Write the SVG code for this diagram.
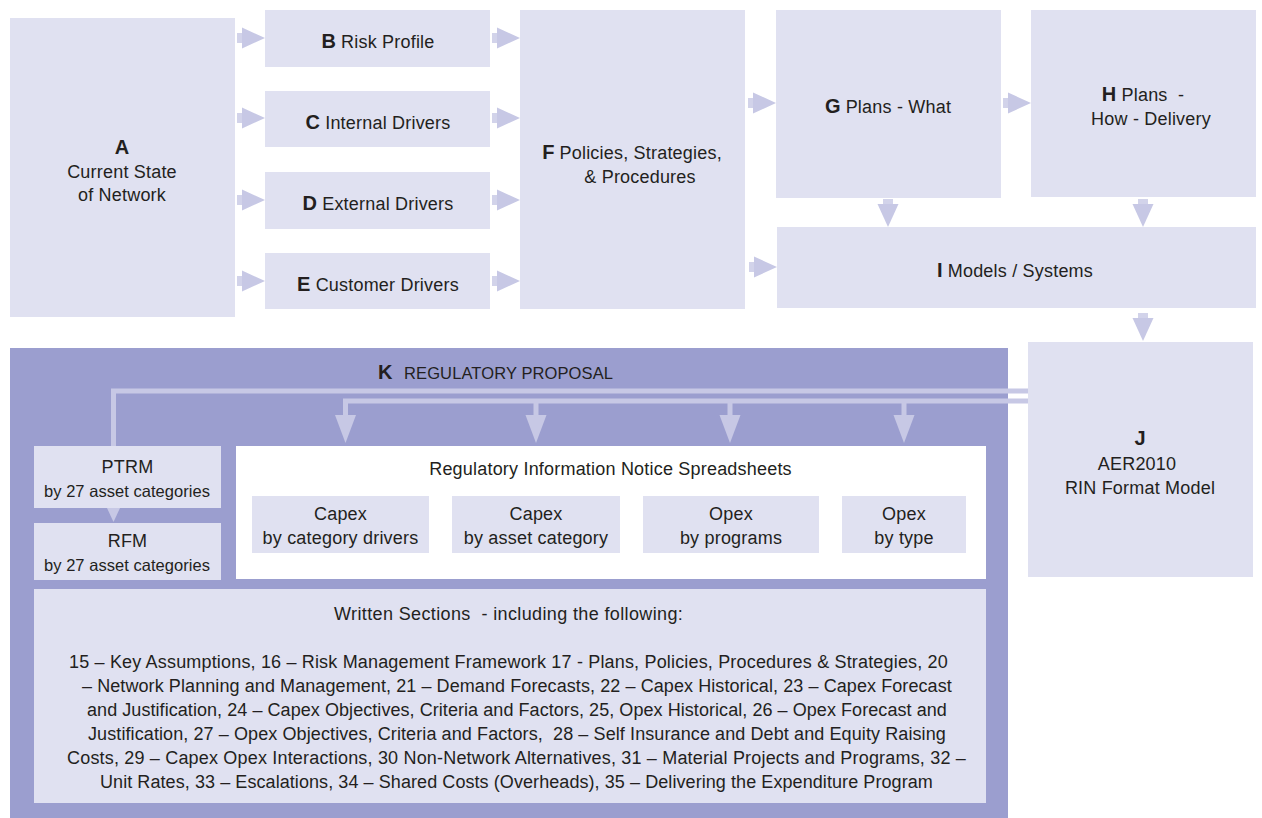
<svg xmlns="http://www.w3.org/2000/svg" xmlns:xlink="http://www.w3.org/1999/xlink" width="1262" height="818" viewBox="0 0 1262 818">
  <style>
    .box{fill:#e0e1f1}
    .white{fill:#ffffff}
    .panel{fill:#9b9ecf}
    .arr{fill:#c7c8e5}
    .ln{stroke:#c7c8e5;fill:none;stroke-width:5}
    .t{font-family:"Liberation Sans",Arial,sans-serif;font-size:18px;letter-spacing:0.2px;fill:#231f20;white-space:pre}
    .m{text-anchor:middle}
    .b{font-weight:bold;font-size:20px;letter-spacing:0}
    .n{font-size:16.5px;letter-spacing:0}
  </style>
  <defs>
    <!-- right-pointing arrow, tip at the origin -->
    <g id="arrow">
      <rect x="-28" y="-5" width="6" height="10" class="arr" opacity="0.8"/>
      <polygon points="-23,-10.5 0,0 -23,10.5" class="arr"/>
    </g>
  </defs>

  <!-- K panel background -->
  <rect id="panel-k" x="10" y="348" width="998" height="470" class="panel"/>

  <g id="connectors">
    <!-- A to drivers -->
    <use xlink:href="#arrow" transform="translate(265,38)"/>
    <use xlink:href="#arrow" transform="translate(265,118)"/>
    <use xlink:href="#arrow" transform="translate(265,200)"/>
    <use xlink:href="#arrow" transform="translate(265,281)"/>
    <!-- drivers to F -->
    <use xlink:href="#arrow" transform="translate(520,38)"/>
    <use xlink:href="#arrow" transform="translate(520,118)"/>
    <use xlink:href="#arrow" transform="translate(520,200)"/>
    <use xlink:href="#arrow" transform="translate(520,281)"/>
    <!-- F to G and I -->
    <use xlink:href="#arrow" transform="translate(776,103)"/>
    <use xlink:href="#arrow" transform="translate(777,267)"/>
    <!-- G to H -->
    <use xlink:href="#arrow" transform="translate(1031,103)"/>
    <!-- G, H down to I -->
    <use xlink:href="#arrow" transform="translate(888,227) rotate(90)"/>
    <use xlink:href="#arrow" transform="translate(1143,227) rotate(90)"/>
    <!-- I down to J -->
    <use xlink:href="#arrow" transform="translate(1143,341) rotate(90)"/>

    <!-- J to PTRM -->
    <path class="ln" d="M1028,391 H113.5 V446" stroke-width="4.5"/>
    <polygon class="arr" points="107,508 120,508 113.5,522"/>
    <!-- J to RIN spreadsheets -->
    <path class="ln" d="M1028,401 H345.5 V416 M536,401 V416 M730,401 V416 M904,401 V416"/>
    <polygon class="arr" points="335,415 356,415 345.5,443"/>
    <polygon class="arr" points="525.5,415 546.5,415 536,443"/>
    <polygon class="arr" points="719.5,415 740.5,415 730,443"/>
    <polygon class="arr" points="893.5,415 914.5,415 904,443"/>
  </g>

  <g id="node-a">
    <rect x="10" y="18" width="225" height="299" class="box"/>
    <text class="t m b" x="122" y="154">A</text>
    <text class="t m" x="122" y="178">Current State</text>
    <text class="t m" x="122" y="201">of Network</text>
  </g>
  <g id="node-b">
    <rect x="265" y="10" width="225" height="57" class="box"/>
    <text class="t m" x="378" y="48"><tspan class="b">B</tspan> Risk Profile</text>
  </g>
  <g id="node-c">
    <rect x="265" y="91" width="225" height="56" class="box"/>
    <text class="t m" x="378" y="129"><tspan class="b">C</tspan> Internal Drivers</text>
  </g>
  <g id="node-d">
    <rect x="265" y="172" width="225" height="57" class="box"/>
    <text class="t m" x="378" y="210"><tspan class="b">D</tspan> External Drivers</text>
  </g>
  <g id="node-e">
    <rect x="265" y="253" width="225" height="56" class="box"/>
    <text class="t m" x="378" y="291"><tspan class="b">E</tspan> Customer Drivers</text>
  </g>
  <g id="node-f">
    <rect x="520" y="10" width="225" height="299" class="box"/>
    <text class="t m" x="632" y="159"><tspan class="b">F</tspan> Policies, Strategies,</text>
    <text class="t m" x="640" y="183">&amp; Procedures</text>
  </g>
  <g id="node-g">
    <rect x="776" y="10" width="225" height="188" class="box"/>
    <text class="t m" x="888" y="113"><tspan class="b">G</tspan> Plans - What</text>
  </g>
  <g id="node-h">
    <rect x="1031" y="10" width="225" height="187" class="box"/>
    <text class="t m" x="1143" y="101"><tspan class="b">H</tspan> Plans  -</text>
    <text class="t m" x="1151" y="125">How - Delivery</text>
  </g>
  <g id="node-i">
    <rect x="777" y="227" width="479" height="81" class="box"/>
    <text class="t m" x="1015" y="277"><tspan class="b">I</tspan> Models / Systems</text>
  </g>
  <g id="node-j">
    <rect x="1028" y="342" width="225" height="235" class="box"/>
    <text class="t m b" x="1140" y="445">J</text>
    <text class="t m" x="1137" y="470">AER2010</text>
    <text class="t m" x="1140" y="494">RIN Format Model</text>
  </g>

  <g id="node-k">
    <text class="t" x="378" y="379"><tspan class="b">K</tspan></text>
    <text class="t n" x="404" y="379" textLength="209">REGULATORY PROPOSAL</text>
  </g>
  <g id="node-ptrm">
    <rect x="34" y="446" width="187" height="62" class="box"/>
    <text class="t m" x="127.5" y="473">PTRM</text>
    <text class="t n" x="44" y="497" textLength="166">by 27 asset categories</text>
  </g>
  <g id="node-rfm">
    <rect x="34" y="523" width="187" height="57" class="box"/>
    <text class="t m" x="127.5" y="547">RFM</text>
    <text class="t n" x="44" y="571" textLength="166">by 27 asset categories</text>
  </g>
  <g id="node-rin">
    <rect x="236" y="446" width="750" height="133" class="white"/>
    <text class="t m" x="610.5" y="475">Regulatory Information Notice Spreadsheets</text>
    <g id="node-capex-drivers">
      <rect x="252" y="496" width="177" height="57" class="box"/>
      <text class="t m" x="340.5" y="520">Capex</text>
      <text class="t m" x="340.5" y="544">by category drivers</text>
    </g>
    <g id="node-capex-asset">
      <rect x="452" y="496" width="168" height="57" class="box"/>
      <text class="t m" x="536" y="520">Capex</text>
      <text class="t m" x="536" y="544">by asset category</text>
    </g>
    <g id="node-opex-programs">
      <rect x="643" y="496" width="176" height="57" class="box"/>
      <text class="t m" x="731" y="520">Opex</text>
      <text class="t m" x="731" y="544">by programs</text>
    </g>
    <g id="node-opex-type">
      <rect x="842" y="496" width="124" height="57" class="box"/>
      <text class="t m" x="904" y="520">Opex</text>
      <text class="t m" x="904" y="544">by type</text>
    </g>
  </g>
  <g id="node-written">
    <rect x="34" y="589" width="952" height="214" class="box"/>
    <text class="t" x="334" y="620" textLength="349">Written Sections  - including the following:</text>
    <text class="t" x="69" y="668" textLength="879">15 – Key Assumptions, 16 – Risk Management Framework 17 - Plans, Policies, Procedures &amp; Strategies, 20</text>
    <text class="t" x="82" y="692" textLength="870">– Network Planning and Management, 21 – Demand Forecasts, 22 – Capex Historical, 23 – Capex Forecast</text>
    <text class="t" x="87" y="716" textLength="860">and Justification, 24 – Capex Objectives, Criteria and Factors, 25, Opex Historical, 26 – Opex Forecast and</text>
    <text class="t" x="88" y="740" textLength="858">Justification, 27 – Opex Objectives, Criteria and Factors,  28 – Self Insurance and Debt and Equity Raising</text>
    <text class="t" x="67" y="764" textLength="899">Costs, 29 – Capex Opex Interactions, 30 Non-Network Alternatives, 31 – Material Projects and Programs, 32 –</text>
    <text class="t" x="100" y="788" textLength="833">Unit Rates, 33 – Escalations, 34 – Shared Costs (Overheads), 35 – Delivering the Expenditure Program</text>
  </g>
</svg>
